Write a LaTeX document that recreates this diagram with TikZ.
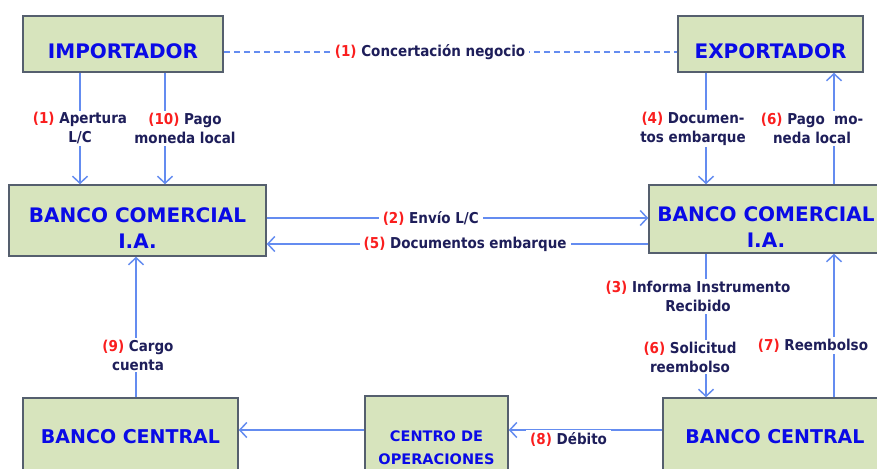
\documentclass[tikz,border=0pt]{standalone}
\usepackage{fontspec}
\setmainfont{DejaVu Sans}
\newfontfamily\lblfont{DejaVu Sans Condensed}
\usetikzlibrary{arrows.meta}
\definecolor{boxfill}{RGB}{215,228,189}
\definecolor{boxline}{RGB}{85,95,110}
\definecolor{flowblue}{RGB}{100,140,240}
\definecolor{boxtext}{RGB}{10,10,230}
\definecolor{lbltext}{RGB}{30,30,90}
\definecolor{steptext}{RGB}{250,30,30}
\newcommand{\stepno}[1]{\textcolor{steptext}{#1}}
\newcommand{\boxstrut}{\rule{0pt}{1.5em}}
\begin{document}
\begin{tikzpicture}[
			x=1pt,y=-1pt,
			box/.style={draw=boxline,line width=1.5pt,fill=boxfill,text=boxtext,
					font=\fontsize{20}{26}\selectfont\bfseries,align=center},
			lbl/.style={fill=white,text=lbltext,inner xsep=4pt,inner ysep=2pt,
					font=\lblfont\fontsize{15}{19}\selectfont\bfseries,align=center},
			flow/.style={draw=flowblue,line width=1.5pt,
					-{Straight Barb[length=7pt,width=15pt,line width=1.5pt]}}
		]
		\useasboundingbox (0,0) rectangle (877,468);
		\clip (0,0) rectangle (877,468);
		\coordinate (ca) at (80,0);
		\coordinate (cb) at (165,0);
		\coordinate (cc) at (706,0);
		\coordinate (cd) at (834,0);
		\coordinate (ce) at (136,0);
		\coordinate (r2) at (0,218);
		\coordinate (r5) at (0,244);
		\coordinate (r8) at (0,430);
		\node[box,minimum width=200,minimum height=56] (imp) at (123,44) {\boxstrut IMPORTADOR};
		\node[box,minimum width=185,minimum height=56] (exp) at (770.5,44) {\boxstrut EXPORTADOR};
		\node[box,minimum width=257,minimum height=71] (bca) at (137.5,220.5) {\boxstrut BANCO COMERCIAL\\I.A.};
		\node[box,minimum width=234,minimum height=68] (bcb) at (766,219) {\boxstrut BANCO COMERCIAL\\I.A.};
		\node[box,minimum width=215,minimum height=78,font=\fontsize{19}{26}\selectfont\bfseries] (bcl) at (130.5,437) {BANCO CENTRAL};
		\node[box,minimum width=143,minimum height=104,font=\fontsize{14.5}{23}\selectfont\bfseries] (cop) at (436.5,448) {CENTRO DE\\OPERACIONES};
		\node[box,minimum width=224,minimum height=78,font=\fontsize{19}{26}\selectfont\bfseries] (bcr) at (775,437) {BANCO CENTRAL};
		\draw[flowblue,line width=1.3pt,dash pattern=on 6pt off 4pt] ([yshift=-8pt]imp.east) --
		node[lbl,pos=0.455] {\stepno{(1)} Concertación negocio} ([yshift=-8pt]exp.west);
		\draw[flow] (imp.south -| ca) -- node[lbl] {\stepno{(1)} Apertura\\L/C} (bca.north -| ca);
		\draw[flow] (imp.south -| cb) -- node[lbl,xshift=20pt] {\stepno{(10)} Pago\\moneda local} (bca.north -| cb);
		\draw[flow] (exp.south -| cc) -- node[lbl,xshift=-13pt] {\stepno{(4)} Documen-\\tos embarque} (bcb.north -| cc);
		\draw[flow] (bcb.north -| cd) -- node[lbl,xshift=-22pt] {\stepno{(6)} Pago~~mo-\\neda local} (exp.south -| cd);
		\draw[flow] (bca.east |- r2) -- node[lbl,pos=0.43] {\stepno{(2)} Envío L/C} (bcb.west |- r2);
		\draw[flow] (bcb.west |- r5) -- node[lbl,pos=0.48] {\stepno{(5)} Documentos embarque} (bca.east |- r5);
		\draw[flow] (bcb.south -| cc) --
		node[lbl,pos=0.3,xshift=-8pt] {\stepno{(3)} Informa Instrumento\\Recibido}
		node[lbl,pos=0.72,xshift=-16pt] {\stepno{(6)} Solicitud\\reembolso} (bcr.north -| cc);
		\draw[flow] (bcr.north -| cd) -- node[lbl,pos=0.36,xshift=-21pt] {\stepno{(7)} Reembolso} (bcb.south -| cd);
		\draw[flow] (bcl.north -| ce) -- node[lbl,pos=0.3,xshift=2pt] {\stepno{(9)} Cargo\\cuenta} (bca.south -| ce);
		\draw[flow] (bcr.west |- r8) -- node[lbl,pos=0.61,yshift=-9pt] {\stepno{(8)} Débito} (cop.east |- r8);
		\draw[flow] (cop.west |- r8) -- (bcl.east |- r8);
	\end{tikzpicture}
\end{document}
